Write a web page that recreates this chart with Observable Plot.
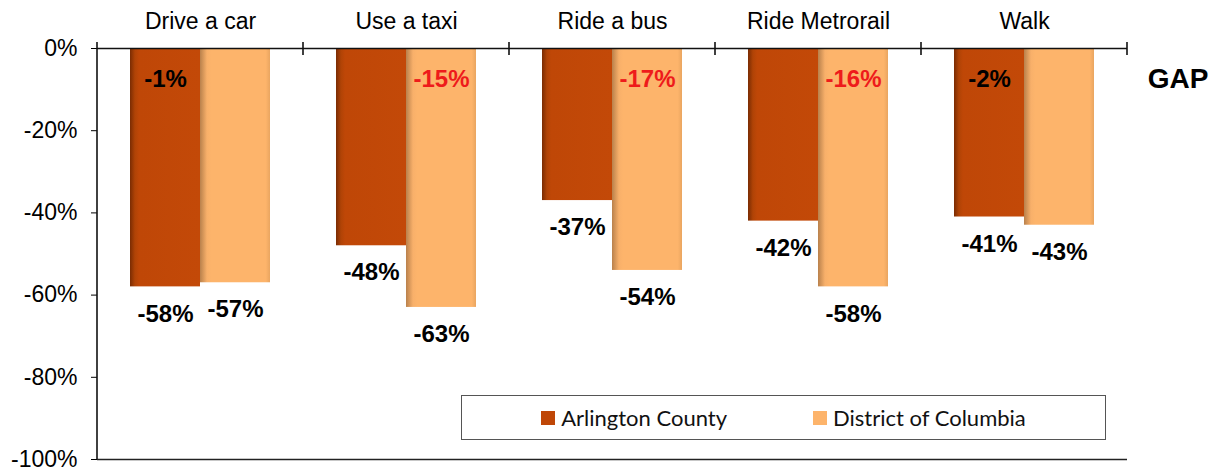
<!DOCTYPE html>
<html><head><meta charset="utf-8">
<script src="https://cdn.jsdelivr.net/npm/d3@7"></script>
<script src="https://cdn.jsdelivr.net/npm/@observablehq/plot@0.6"></script>
<style>
body{margin:0;background:#fff;}
#wrap{position:relative;width:1216px;height:472px;overflow:hidden;}
#gap{position:absolute;left:1178px;top:79px;transform:translate(-50%,-50%);font:bold 28px "Liberation Sans",Arial,sans-serif;color:#000;}
#legend{position:absolute;left:461px;top:395px;width:643px;height:43px;border:1px solid #555;display:flex;align-items:center;justify-content:center;gap:86px;font:22px Lato,"Open Sans",sans-serif;color:#111;background:#fff;}
#legend .item{display:flex;align-items:center;}
#legend .sw{width:14px;height:14px;margin-right:6px;}
</style>
</head><body><div id="wrap"></div>
<script>
const categories = ["Drive a car","Use a taxi","Ride a bus","Ride Metrorail","Walk"];
const series = ["Arlington County","District of Columbia"];
const arlington = [-58,-48,-37,-42,-41];
const district = [-57,-63,-54,-58,-43];
const gaps = [-1,-15,-17,-16,-2];
const gapHighlight = [false,true,true,true,false];
const yTicks = [0,-20,-40,-60,-80,-100];
const colors = ["#BF4707","#FDB46B"];
const gapColor = "#EE1B1B";

const rows = categories.flatMap((c,i)=>[
  {cat:c, series:series[0], value:arlington[i]},
  {cat:c, series:series[1], value:district[i]}
]);
const gapRows = categories.map((c,i)=>({cat:c, series: gapHighlight[i]?series[1]:series[0], gap:gaps[i], hl:gapHighlight[i]}));

const chart = Plot.plot({
  width:1216, height:472,
  marginTop:48, marginBottom:13, marginLeft:97, marginRight:89,
  style:{fontFamily:"'Liberation Sans', Arial, sans-serif", fontSize:"23px", color:"#000", background:"transparent", overflow:"visible"},
  fx:{domain:categories, padding:0, axis:"top", label:null, tickSize:0, tickPadding:20},
  x:{domain:series, paddingInner:0, paddingOuter:0.455, axis:null},
  y:{domain:[-100,0], ticks:yTicks, tickFormat:d=>d+"%", label:null, tickSize:6, tickPadding:14},
  marks:[
    Plot.barY(rows.filter(d=>d.series===series[0]), {fx:"cat", x:"series", y:"value", fill:"url(#gDark)"}),
    Plot.barY(rows.filter(d=>d.series===series[1]), {fx:"cat", x:"series", y:"value", fill:"url(#gLight)"}),
    Plot.ruleY([0], {stroke:"#111", strokeWidth:1.6}),
    Plot.ruleY([-100], {stroke:"#222", strokeWidth:1.6}),
    Plot.text(rows, {fx:"cat", x:"series", y:"value", text:d=>d.value+"%", dy:27, fontWeight:"bold", fontSize:24, fill:"#000"}),
    Plot.text(gapRows.filter(d=>!d.hl), {fx:"cat", x:"series", frameAnchor:"top", dy:21, text:d=>d.gap+"%", fontWeight:"bold", fontSize:24, fill:"#000"}),
    Plot.text(gapRows.filter(d=>d.hl), {fx:"cat", x:"series", frameAnchor:"top", dy:21, text:d=>d.gap+"%", fontWeight:"bold", fontSize:24, fill:gapColor})
  ]
});

const svgEl = chart.tagName.toLowerCase()==="svg" ? chart : chart.querySelector("svg");
const svg = d3.select(svgEl);
const defs = svg.insert("defs", ":first-child");
const gd = defs.append("linearGradient").attr("id","gDark").attr("x1",0).attr("x2",1).attr("y1",0).attr("y2",0);
[[0,"#7a2c03"],[0.07,"#b04306"],[0.13,colors[0]],[1,"#C34908"]].forEach(([o,c])=>gd.append("stop").attr("offset",o).attr("stop-color",c));
const gl = defs.append("linearGradient").attr("id","gLight").attr("x1",0).attr("x2",1).attr("y1",0).attr("y2",0);
[[0,"#b9814c"],[0.1,"#F8B06A"],[0.16,colors[1]],[0.94,colors[1]],[1,"#e9a560"]].forEach(([o,c])=>gl.append("stop").attr("offset",o).attr("stop-color",c));

// left axis line and facet boundary ticks
const fx = chart.scale("fx");
const y = chart.scale("y");
const x0 = fx.range[0], x1 = fx.range[1];
const bounds = categories.map(c=>fx.apply(c)).concat([x1]);
const g = svg.append("g").attr("stroke","#111").attr("stroke-width",1.6);
g.append("line").attr("x1",x0).attr("x2",x0).attr("y1",y.apply(0)-6).attr("y2",y.apply(-100));
bounds.slice(1).forEach(bx=>g.append("line").attr("x1",bx).attr("x2",bx).attr("y1",y.apply(0)-6).attr("y2",y.apply(0)+7));

const wrap = document.getElementById("wrap");
wrap.appendChild(chart);
const gapDiv = document.createElement("div"); gapDiv.id="gap"; gapDiv.textContent="GAP"; wrap.appendChild(gapDiv);
const leg = document.createElement("div"); leg.id="legend";
series.forEach((s,i)=>{
  const it=document.createElement("div"); it.className="item";
  const sw=document.createElement("div"); sw.className="sw"; sw.style.background=colors[i];
  const t=document.createElement("span"); t.textContent=s;
  it.appendChild(sw); it.appendChild(t); leg.appendChild(it);
});
wrap.appendChild(leg);
if (chart !== svgEl) { chart.style.margin = "0"; }
svgEl.style.position="absolute"; svgEl.style.left="0"; svgEl.style.top="0";
</script>
</body></html>
